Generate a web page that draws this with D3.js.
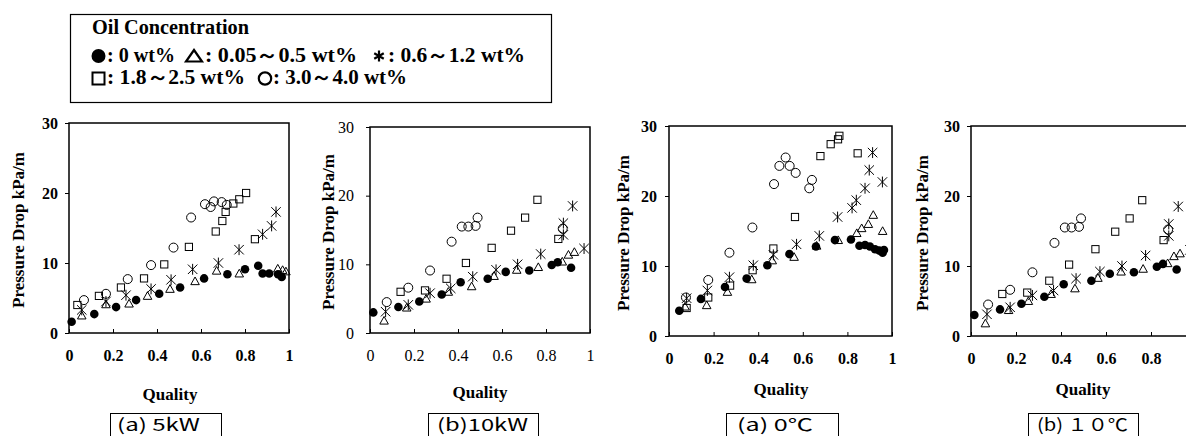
<!DOCTYPE html>
<html>
<head>
<meta charset="utf-8">
<script src="https://cdn.jsdelivr.net/npm/d3@7"></script>
<style>
  body { margin: 0; background: #fff; }
  svg { display: block; }
</style>
</head>
<body>
<svg id="chart" width="1186" height="436"></svg>
<script>
// axis ticks
const Q_TICKS = [0, 0.2, 0.4, 0.6, 0.8, 1];
const DP_TICKS = [0, 10, 20, 30];

// series: oil concentration groups, points are [quality, pressure drop kPa/m]
// (a) 5kW
const KW5_OIL0 = [[0.012,1.6],[0.115,2.7],[0.214,3.7],[0.305,4.7],[0.41,5.6],[0.505,6.5],[0.614,7.8],[0.72,8.4],[0.80,9.1],[0.86,9.6],[0.88,8.5],[0.91,8.5],[0.95,8.4],[0.967,8.0]];
const KW5_OIL05 = [[0.058,2.5],[0.168,4.1],[0.273,4.2],[0.357,5.3],[0.459,6.3],[0.573,7.4],[0.671,8.9],[0.774,8.5],[0.949,9.2],[0.971,9.0],[0.986,8.8]];
const KW5_OIL1 = [[0.058,3.3],[0.168,4.5],[0.259,5.4],[0.373,6.3],[0.464,7.6],[0.562,9.1],[0.679,10.0],[0.773,11.9],[0.88,14.1],[0.921,15.3],[0.941,17.3]];
const KW5_OIL2 = [[0.038,4.0],[0.136,5.3],[0.236,6.5],[0.341,7.8],[0.433,9.8],[0.545,12.3],[0.667,14.5],[0.697,16.0],[0.712,17.3],[0.747,18.5],[0.774,19.1],[0.805,20.0],[0.845,13.4]];
const KW5_OIL3 = [[0.068,4.7],[0.168,5.6],[0.267,7.7],[0.373,9.7],[0.475,12.2],[0.555,16.5],[0.618,18.4],[0.644,18.0],[0.659,18.8],[0.694,18.7],[0.717,18.3]];

// (b) 10kW  (also shown as (b) 10C)
const KW10_OIL0 = [[0.015,3.0],[0.129,3.8],[0.224,4.6],[0.326,5.6],[0.412,7.4],[0.535,7.9],[0.617,8.9],[0.724,9.1],[0.826,9.9],[0.853,10.3],[0.914,9.5]];
const KW10_OIL05 = [[0.064,1.8],[0.167,3.7],[0.255,5.0],[0.356,6.0],[0.462,6.8],[0.564,8.3],[0.667,9.2],[0.765,9.6],[0.874,10.4],[0.902,11.4],[0.929,11.8]];
const KW10_OIL1 = [[0.071,3.1],[0.174,4.1],[0.273,5.8],[0.367,6.5],[0.467,8.2],[0.573,9.2],[0.671,10.0],[0.776,11.5],[0.879,14.3],[0.879,16.0],[0.921,18.5],[0.973,12.3]];
const KW10_OIL2 = [[0.139,6.0],[0.25,6.2],[0.348,7.9],[0.436,10.2],[0.553,12.4],[0.641,14.9],[0.705,16.8],[0.761,19.4],[0.856,13.7]];
const KW10_OIL3 = [[0.076,4.5],[0.174,6.6],[0.273,9.1],[0.371,13.3],[0.417,15.5],[0.447,15.5],[0.48,15.6],[0.489,16.8],[0.876,15.2]];

// (a) 0C
const C0_OIL0 = [[0.046,3.6],[0.143,5.3],[0.251,7.0],[0.348,8.2],[0.441,10.1],[0.54,11.7],[0.659,12.8],[0.744,13.7],[0.816,13.8],[0.854,12.9],[0.879,13.0],[0.901,12.8],[0.924,12.4],[0.943,12.2],[0.958,11.9],[0.964,12.3]];
const C0_OIL05 = [[0.072,4.2],[0.169,4.4],[0.262,6.3],[0.371,8.1],[0.463,10.8],[0.561,11.3],[0.662,12.9],[0.759,13.7],[0.842,14.7],[0.864,15.4],[0.894,16.0],[0.916,17.3],[0.958,15.0]];
const C0_OIL1 = [[0.079,5.4],[0.172,6.5],[0.271,8.4],[0.378,10.1],[0.468,11.6],[0.572,13.1],[0.674,14.3],[0.756,17.0],[0.821,18.3],[0.84,19.4],[0.879,21.1],[0.898,23.7],[0.913,26.2],[0.957,22.0]];
const C0_OIL2 = [[0.079,4.0],[0.176,5.5],[0.274,7.2],[0.375,9.4],[0.468,12.5],[0.565,17.0],[0.679,25.7],[0.725,27.4],[0.758,28.1],[0.764,28.6],[0.846,26.1]];
const C0_OIL3 = [[0.076,5.5],[0.176,8.0],[0.271,11.9],[0.374,15.5],[0.471,21.7],[0.495,24.3],[0.523,25.5],[0.541,24.3],[0.568,23.3],[0.629,21.1],[0.641,22.3]];

const LEGEND_TITLE = 'Oil Concentration';
const LEGEND_ITEMS = [
  { shape: 'dot',    label: ': 0 wt%' },
  { shape: 'tri',    label: ': 0.05～0.5 wt%' },
  { shape: 'star',   label: ': 0.6～1.2 wt%' },
  { shape: 'square', label: ': 1.8～2.5 wt%' },
  { shape: 'circle', label: ': 3.0～4.0 wt%' },
];

const SERIF = '"Liberation Serif", "Times New Roman", serif';
const GOTHIC = '"Noto Sans CJK JP", "DejaVu Sans", sans-serif';
const W = 1186;

function sets(a, b, c, d, e) {
  return [
    { shape: 'dot', pts: a }, { shape: 'tri', pts: b }, { shape: 'star', pts: c },
    { shape: 'square', pts: d }, { shape: 'circle', pts: e },
  ];
}

const panels = [
  { series: sets(KW5_OIL0, KW5_OIL05, KW5_OIL1, KW5_OIL2, KW5_OIL3), caption: '(a) 5kW',
    x0: 69, x1: 289, y0: 123, y1: 333, tickW: 'bold', yPad: 7, titleX: 18, qualX: 170, qualY: 400,
    capX: 110, capW: 111, capTx: 117, capTw: 83 },
  { series: sets(KW10_OIL0, KW10_OIL05, KW10_OIL1, KW10_OIL2, KW10_OIL3), caption: '(b)10kW',
    x0: 370, x1: 590, y0: 127, y1: 333, tickW: 'normal', yPad: 12, titleX: 328, qualX: 480, qualY: 398,
    capX: 428, capW: 110, capTx: 437, capTw: 91 },
  { series: sets(C0_OIL0, C0_OIL05, C0_OIL1, C0_OIL2, C0_OIL3), caption: '(a) 0℃',
    x0: 669, x1: 892, y0: 126, y1: 336, tickW: 'bold', yPad: 8, titleX: 623, qualX: 781, qualY: 395,
    capX: 726, capW: 112, capTx: 737, capTw: 76 },
  { series: sets(KW10_OIL0, KW10_OIL05, KW10_OIL1, KW10_OIL2, KW10_OIL3), caption: '(b) １０℃',
    x0: 971, x1: 1196, y0: 126, y1: 336, tickW: 'bold', yPad: 7, titleX: 922, qualX: 1083, qualY: 395,
    capX: 1028, capW: 110, capTx: 1037, capTw: 91 },
];

const svg = d3.select('#chart');
svg.append('rect').attr('width', W).attr('height', 436).attr('fill', '#fff');

function drawMarker(sel, shape, size) {
  const s = size;
  if (shape === 'dot') {
    sel.append('circle').attr('r', s * 0.95).attr('fill', '#000');
  } else if (shape === 'circle') {
    sel.append('circle').attr('r', s).attr('fill', 'none').attr('stroke', '#000');
  } else if (shape === 'square') {
    sel.append('rect').attr('x', -s * 0.8).attr('y', -s * 0.8)
      .attr('width', s * 1.6).attr('height', s * 1.6)
      .attr('fill', 'none').attr('stroke', '#000');
  } else if (shape === 'tri') {
    const h = s * 1.7, w = s * 1.9;
    sel.append('path')
      .attr('d', `M0,${-h * 0.55}L${w / 2},${h * 0.45}L${-w / 2},${h * 0.45}Z`)
      .attr('fill', 'none').attr('stroke', '#000');
  } else if (shape === 'star') {
    const r = s * 1.05;
    sel.append('path')
      .attr('d', `M${-r},${-r}L${r},${r}M${-r},${r}L${r},${-r}M0,${-r * 1.15}L0,${r * 1.15}`)
      .attr('fill', 'none').attr('stroke', '#000');
  }
}

panels.forEach(p => {
  const x = d3.scaleLinear().domain([0, 1]).range([p.x0, p.x1]);
  const y = d3.scaleLinear().domain([0, 30]).range([p.y1, p.y0]);
  const g = svg.append('g');

  // axes
  const ax = g.append('g')
    .attr('transform', `translate(0,${p.y1})`)
    .call(d3.axisBottom(x).tickValues(Q_TICKS).tickFormat(d3.format('~g'))
      .tickSizeInner(-4).tickSizeOuter(0).tickPadding(17));
  const ay = g.append('g')
    .attr('transform', `translate(${p.x0},0)`)
    .call(d3.axisLeft(y).tickValues(DP_TICKS).tickSizeInner(4).tickSizeOuter(0).tickPadding(p.yPad));
  // the last panel runs past the page edge; its out-of-page tick is not shown
  ax.selectAll('.tick').filter(d => x(d) > W - 4).remove();
  [ax, ay].forEach(a => {
    a.select('.domain').remove();
    a.selectAll('line').attr('stroke', '#000').attr('stroke-width', 1);
    a.selectAll('text').attr('fill', '#000')
      .style('font-family', SERIF).style('font-size', '16px').style('font-weight', p.tickW);
  });

  g.append('rect')
    .attr('x', p.x0).attr('y', p.y0)
    .attr('width', p.x1 - p.x0).attr('height', p.y1 - p.y0)
    .attr('fill', 'none').attr('stroke', '#000').attr('stroke-width', 1.5);

  // points
  p.series.forEach(s => {
    g.append('g').selectAll('g')
      .data(s.pts)
      .join('g')
      .attr('transform', d => `translate(${x(d[0])},${y(d[1])})`)
      .each(function () { drawMarker(d3.select(this), s.shape, 4.5); });
  });

  // titles
  g.append('text')
    .attr('transform', `translate(${p.titleX},${(p.y0 + p.y1) / 2 + 2}) rotate(-90)`)
    .attr('text-anchor', 'middle').attr('dominant-baseline', 'central')
    .style('font-family', SERIF).style('font-size', '17px').style('font-weight', 'bold')
    .text('Pressure Drop kPa/m');
  g.append('text')
    .attr('x', p.qualX).attr('y', p.qualY)
    .attr('text-anchor', 'middle')
    .style('font-family', SERIF).style('font-size', '17px').style('font-weight', 'bold')
    .text('Quality');

  // caption box
  g.append('rect')
    .attr('x', p.capX + 0.5).attr('y', 413.5)
    .attr('width', p.capW).attr('height', 40)
    .attr('fill', '#fff').attr('stroke', '#000').attr('stroke-width', 1);
  g.append('text')
    .attr('x', p.capTx).attr('y', 431)
    .attr('textLength', p.capTw).attr('lengthAdjust', 'spacingAndGlyphs')
    .style('font-family', GOTHIC).style('font-size', '17px')
    .text(p.caption);
});

// legend
const lg = svg.append('g');
lg.append('rect')
  .attr('x', 70.5).attr('y', 14.5).attr('width', 481).attr('height', 88)
  .attr('fill', '#fff').attr('stroke', '#000').attr('stroke-width', 1.2);
lg.append('text')
  .attr('x', 92).attr('y', 34)
  .attr('textLength', 157).attr('lengthAdjust', 'spacingAndGlyphs')
  .style('font-family', SERIF).style('font-size', '20px').style('font-weight', 'bold')
  .text(LEGEND_TITLE);

// symbol centre x, text start, text width, baseline
const legendPos = [
  { sx: 98.5, tx: 107, tw: 68, by: 61.5 },
  { sx: 194, tx: 205, tw: 152, by: 61.5 },
  { sx: 379, tx: 388, tw: 137, by: 61.5 },
  { sx: 98.5, tx: 107, tw: 138, by: 84 },
  { sx: 265, tx: 273, tw: 134, by: 84 },
];
LEGEND_ITEMS.forEach((it, i) => {
  const pos = legendPos[i];
  const cy = pos.by - 5.5;
  const m = lg.append('g').attr('transform', `translate(${pos.sx},${cy})`);
  if (it.shape === 'dot') {
    m.append('circle').attr('r', 7).attr('fill', '#000');
  } else if (it.shape === 'tri') {
    m.append('path').attr('d', 'M0,-6L8,5.5L-8,5.5Z').attr('fill', 'none')
      .attr('stroke', '#000').attr('stroke-width', 2.2);
  } else if (it.shape === 'star') {
    const r = 5.5;
    const d = [90, 30, -30].map(a => {
      const c = Math.cos(a * Math.PI / 180) * r, s = Math.sin(a * Math.PI / 180) * r;
      return `M${-c},${-s}L${c},${s}`;
    }).join('');
    m.append('path').attr('d', d).attr('stroke', '#000').attr('stroke-width', 2.2);
  } else if (it.shape === 'square') {
    m.append('rect').attr('x', -6).attr('y', -6).attr('width', 12).attr('height', 12)
      .attr('fill', 'none').attr('stroke', '#000').attr('stroke-width', 2);
  } else {
    m.append('circle').attr('r', 6.2).attr('fill', 'none')
      .attr('stroke', '#000').attr('stroke-width', 2.2);
  }
  lg.append('text')
    .attr('x', pos.tx).attr('y', pos.by)
    .attr('textLength', pos.tw).attr('lengthAdjust', 'spacingAndGlyphs')
    .style('font-family', SERIF).style('font-size', '21px').style('font-weight', 'bold')
    .text(it.label);
});
</script>
</body>
</html>
